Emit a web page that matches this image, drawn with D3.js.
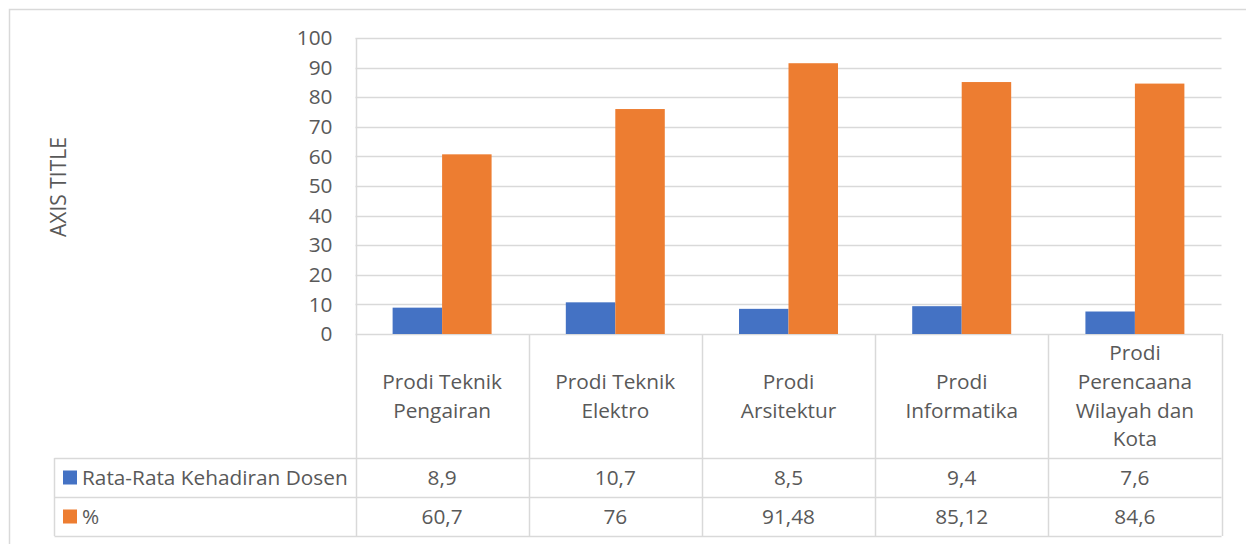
<!DOCTYPE html>
<html>
<head>
<meta charset="utf-8">
<script src="https://cdn.jsdelivr.net/npm/d3@7"></script>
<style>
  html, body { margin: 0; padding: 0; background: #fff; }
  svg { display: block; }
  text { font-family: "Open Sans", Lato, sans-serif; fill: #595959; }
</style>
</head>
<body>
<svg id="chart" width="1246" height="544"></svg>
<script>
const categories = ["Prodi Teknik Pengairan", "Prodi Teknik Elektro", "Prodi Arsitektur", "Prodi Informatika", "Prodi Perencaana Wilayah dan Kota"];
const categoryLines = [["Prodi Teknik", "Pengairan"], ["Prodi Teknik", "Elektro"], ["Prodi", "Arsitektur"], ["Prodi", "Informatika"], ["Prodi", "Perencaana", "Wilayah dan", "Kota"]];
const seriesNames = ["Rata-Rata Kehadiran Dosen", "%"];
const kehadiran = [8.9, 10.7, 8.5, 9.4, 7.6];
const persen = [60.7, 76, 91.48, 85.12, 84.6];
const yTicks = [0, 10, 20, 30, 40, 50, 60, 70, 80, 90, 100];
const colors = ["#4472C4", "#ED7D31"];
const axisTitle = "AXIS TITLE";

const seriesValues = [kehadiran, persen];
const svg = d3.select("#chart");
const grid = "#d9d9d9";
const FS = "20.8px";

const plotL = 355.5, plotR = 1221.5, plotT = 38, plotB = 334;
const tableHeadB = 458, row1B = 497, row2B = 536, tableL = 54.5;

// outer border
svg.append("rect").attr("x", 9.5).attr("y", 9.5).attr("width", 1300).attr("height", 600)
  .attr("fill", "none").attr("stroke", grid).attr("stroke-width", 1.5);

const x0 = d3.scaleBand().domain(categories).range([plotL, plotR]).paddingInner(0).paddingOuter(0);
const x1 = d3.scaleBand().domain(seriesNames).range([0, x0.bandwidth()]).paddingInner(0).paddingOuter(0.75);
const y = d3.scaleLinear().domain([0, 100]).range([plotB, plotT]);

// gridlines
svg.append("g").selectAll("line").data(yTicks).join("line")
  .attr("x1", plotL).attr("x2", plotR)
  .attr("y1", d => Math.round(y(d)) + 0.5).attr("y2", d => Math.round(y(d)) + 0.5)
  .attr("stroke", grid).attr("stroke-width", 1.5);

// y axis labels via d3 axis
const yAxis = svg.append("g").attr("transform", `translate(${plotL},0)`)
  .call(d3.axisLeft(y).tickValues(yTicks).tickSize(0).tickPadding(23));
yAxis.select(".domain").remove();
yAxis.selectAll("text").style("font-size", FS).attr("fill", "#595959")
  .style("font-family", "'Open Sans', Lato, sans-serif");

// bars
const bars = [];
categories.forEach((c, i) => seriesNames.forEach((s, j) => bars.push({c, s, v: seriesValues[j][i], j})));
svg.append("g").selectAll("rect").data(bars).join("rect")
  .attr("x", d => x0(d.c) + x1(d.s))
  .attr("width", x1.bandwidth())
  .attr("y", d => y(d.v))
  .attr("height", d => y(0) - y(d.v))
  .attr("fill", d => colors[d.j]);

// table lines
const tg = svg.append("g").attr("stroke", grid).attr("stroke-width", 1.5);
const bounds = categories.map(c => x0(c)).concat([plotR]);
tg.selectAll("line.v").data(bounds).join("line").attr("class", "v")
  .attr("x1", d => Math.round(d) + 0.5).attr("x2", d => Math.round(d) + 0.5)
  .attr("y1", d => d === bounds[0] ? plotT : plotB).attr("y2", row2B);
[tableHeadB, row1B, row2B].forEach(yy => {
  tg.append("line").attr("x1", tableL).attr("x2", plotR).attr("y1", yy + 0.5).attr("y2", yy + 0.5);
});
tg.append("line").attr("x1", tableL).attr("x2", tableL).attr("y1", tableHeadB).attr("y2", row2B);

// category labels
const lh = 28.8;
categories.forEach((c, i) => {
  const lines = categoryLines[i];
  const cx = x0(c) + x0.bandwidth() / 2;
  const startY = 396 - (lines.length - 1) * lh / 2;
  const t = svg.append("text").attr("text-anchor", "middle").style("font-size", FS);
  lines.forEach((ln, k) => {
    t.append("tspan").attr("x", cx).attr("y", startY + k * lh).attr("dy", "0.35em").text(ln);
  });
});

// table rows
const rowMid = [(tableHeadB + row1B) / 2, (row1B + row2B) / 2];
const fmt = v => String(v).replace(".", ",");
seriesNames.forEach((s, j) => {
  svg.append("rect").attr("x", 63).attr("y", rowMid[j] - 7).attr("width", 14).attr("height", 14).attr("fill", colors[j]);
  svg.append("text").attr("x", 82).attr("y", rowMid[j]).attr("dy", "0.35em").style("font-size", FS).text(s);
  categories.forEach((c, i) => {
    svg.append("text").attr("x", x0(c) + x0.bandwidth() / 2).attr("y", rowMid[j]).attr("dy", "0.35em")
      .attr("text-anchor", "middle").style("font-size", FS).text(fmt(seriesValues[j][i]));
  });
});

// axis title
svg.append("text").attr("transform", "translate(59,187) rotate(-90)").attr("text-anchor", "middle")
  .attr("dy", "0.35em").style("font-size", "21px").text(axisTitle);
</script>
</body>
</html>
